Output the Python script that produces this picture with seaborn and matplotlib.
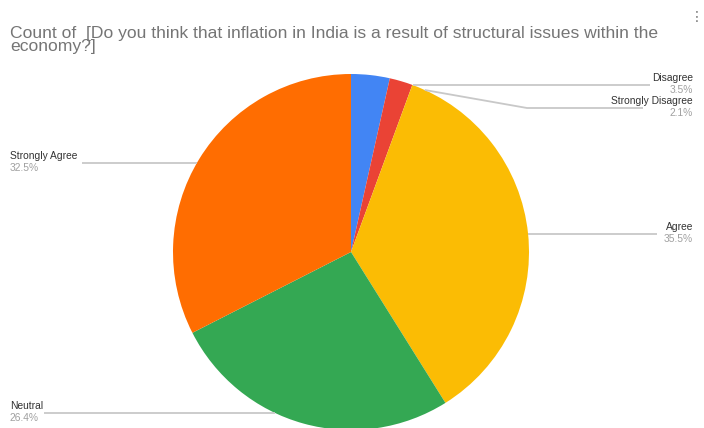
import numpy as np
import matplotlib
matplotlib.use("Agg")
import matplotlib.pyplot as plt
import seaborn as sns

# Survey responses (share of answers, %), clockwise from 12 o'clock
categories = ["Disagree", "Strongly Disagree", "Agree", "Neutral", "Strongly Agree"]
shares = [3.5, 2.1, 35.5, 26.4, 32.5]
slice_colors = ["#4285F4", "#EA4335", "#FBBC04", "#34A853", "#FF6D01"]

title = "Count of  [Do you think that inflation in India is a result of structural issues within the\neconomy?]"

sns.set_theme(style="white")
plt.rcParams["font.family"] = ["Liberation Sans", "DejaVu Sans"]
palette = sns.color_palette(slice_colors)

W, H = 704, 428
fig = plt.figure(figsize=(W / 100, H / 100), dpi=100)
ax = fig.add_axes([0, 0, 1, 1])

cx, cy, r = 351, H - 252, 178
ax.pie(shares, colors=palette, startangle=90, counterclock=False,
       center=(cx, cy), radius=r, frame=True,
       wedgeprops=dict(linewidth=0))
ax.set_xlim(0, W)
ax.set_ylim(0, H)
ax.set_aspect("equal")
ax.axis("off")

line_c = "#c8c8c8"
name_c = "#333333"
pct_c = "#a0a0a0"
fs = 7.4


def edge_x(y_px, side):
    dy = (H - y_px) - cy
    return cx + side * np.sqrt(max(r * r - dy * dy, 0))


# label layout: side, leader line y (px from top), outer end x of the line
layout = {
    "Disagree": (1, 85, 650),
    "Strongly Disagree": (1, 108, 643),
    "Agree": (1, 234, 657),
    "Strongly Agree": (-1, 163, 82),
    "Neutral": (-1, 413, 44),
}

for name, val in zip(categories, shares):
    side, ly, lx = layout[name]
    yy = H - ly
    if name == "Strongly Disagree":
        sy = 90
        sx = edge_x(sy, 1)
        ax.plot([sx, 527, lx], [H - sy, yy, yy], color=line_c, lw=1.3,
                solid_capstyle="butt")
    else:
        sx = edge_x(ly, side)
        ax.plot([sx, lx], [yy, yy], color=line_c, lw=1.3, solid_capstyle="butt")
    if side > 0:
        tx, ha = 693, "right"
    else:
        tx, ha = 10, "left"
    ax.text(tx, yy + 7, name, ha=ha, va="center", fontsize=fs, color=name_c)
    ax.text(tx, yy - 5, f"{val:.1f}%", ha=ha, va="center", fontsize=fs, color=pct_c)

fig.text(10 / W, 1 - 26 / H, title, ha="left", va="top", fontsize=12.6,
         color="#757575", linespacing=0.8)
fig.text(697 / W, 1 - 17 / H, "\u22ee", ha="center", va="center",
         fontsize=10, color="#777777", family=["DejaVu Sans"])

fig.savefig("out.png", dpi=100, facecolor="white")
